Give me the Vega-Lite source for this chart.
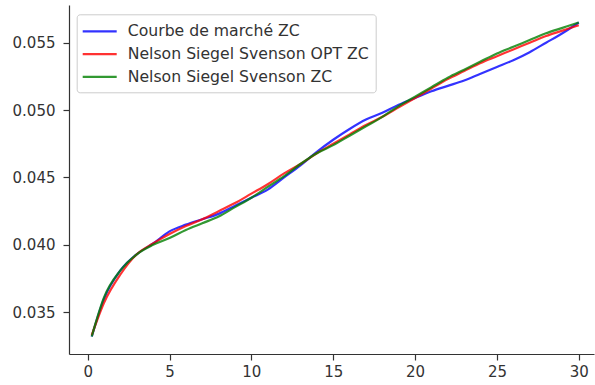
{
  "$schema": "https://vega.github.io/schema/vega-lite/v6.json",
  "width": 525,
  "height": 349,
  "autosize": {"type": "none"},
  "padding": {"left": 69, "top": 5, "right": 1, "bottom": 31},
  "background": "white",
  "config": {
    "view": {"stroke": null},
    "font": "DejaVu Sans",
    "axis": {
      "grid": false,
      "title": null,
      "domainColor": "#333333",
      "domainWidth": 1.2,
      "tickColor": "#333333",
      "tickSize": 6,
      "tickWidth": 1.2,
      "labelFont": "DejaVu Sans",
      "labelFontSize": 15,
      "labelColor": "#333333"
    }
  },
  "datasets": {
    "curves": [
      {"t": 0.25, "s": "Courbe de marché ZC", "v": 0.0332},
      {"t": 1, "s": "Courbe de marché ZC", "v": 0.0360},
      {"t": 2, "s": "Courbe de marché ZC", "v": 0.0381},
      {"t": 3, "s": "Courbe de marché ZC", "v": 0.0393},
      {"t": 4, "s": "Courbe de marché ZC", "v": 0.0401},
      {"t": 5, "s": "Courbe de marché ZC", "v": 0.0410},
      {"t": 6, "s": "Courbe de marché ZC", "v": 0.0415},
      {"t": 7, "s": "Courbe de marché ZC", "v": 0.0419},
      {"t": 8, "s": "Courbe de marché ZC", "v": 0.0423},
      {"t": 9, "s": "Courbe de marché ZC", "v": 0.0429},
      {"t": 10, "s": "Courbe de marché ZC", "v": 0.0435},
      {"t": 11, "s": "Courbe de marché ZC", "v": 0.0441},
      {"t": 12, "s": "Courbe de marché ZC", "v": 0.0450},
      {"t": 13, "s": "Courbe de marché ZC", "v": 0.0459},
      {"t": 14, "s": "Courbe de marché ZC", "v": 0.0469},
      {"t": 15, "s": "Courbe de marché ZC", "v": 0.0478},
      {"t": 16, "s": "Courbe de marché ZC", "v": 0.0486},
      {"t": 17, "s": "Courbe de marché ZC", "v": 0.0493},
      {"t": 18, "s": "Courbe de marché ZC", "v": 0.0498},
      {"t": 19, "s": "Courbe de marché ZC", "v": 0.0504},
      {"t": 20, "s": "Courbe de marché ZC", "v": 0.0509},
      {"t": 21, "s": "Courbe de marché ZC", "v": 0.0514},
      {"t": 22, "s": "Courbe de marché ZC", "v": 0.0518},
      {"t": 23, "s": "Courbe de marché ZC", "v": 0.0522},
      {"t": 24, "s": "Courbe de marché ZC", "v": 0.0527},
      {"t": 25, "s": "Courbe de marché ZC", "v": 0.0532},
      {"t": 26, "s": "Courbe de marché ZC", "v": 0.0537},
      {"t": 27, "s": "Courbe de marché ZC", "v": 0.0543},
      {"t": 28, "s": "Courbe de marché ZC", "v": 0.0550},
      {"t": 29, "s": "Courbe de marché ZC", "v": 0.0557},
      {"t": 30, "s": "Courbe de marché ZC", "v": 0.0565},
      {"t": 0.25, "s": "Nelson Siegel Svenson OPT ZC", "v": 0.0333},
      {"t": 1, "s": "Nelson Siegel Svenson OPT ZC", "v": 0.0357},
      {"t": 2, "s": "Nelson Siegel Svenson OPT ZC", "v": 0.0378},
      {"t": 3, "s": "Nelson Siegel Svenson OPT ZC", "v": 0.0393},
      {"t": 4, "s": "Nelson Siegel Svenson OPT ZC", "v": 0.0401},
      {"t": 5, "s": "Nelson Siegel Svenson OPT ZC", "v": 0.0408},
      {"t": 6, "s": "Nelson Siegel Svenson OPT ZC", "v": 0.0414},
      {"t": 7, "s": "Nelson Siegel Svenson OPT ZC", "v": 0.0419},
      {"t": 8, "s": "Nelson Siegel Svenson OPT ZC", "v": 0.0425},
      {"t": 9, "s": "Nelson Siegel Svenson OPT ZC", "v": 0.0431},
      {"t": 10, "s": "Nelson Siegel Svenson OPT ZC", "v": 0.0438},
      {"t": 11, "s": "Nelson Siegel Svenson OPT ZC", "v": 0.0445},
      {"t": 12, "s": "Nelson Siegel Svenson OPT ZC", "v": 0.0453},
      {"t": 13, "s": "Nelson Siegel Svenson OPT ZC", "v": 0.0460},
      {"t": 14, "s": "Nelson Siegel Svenson OPT ZC", "v": 0.0468},
      {"t": 15, "s": "Nelson Siegel Svenson OPT ZC", "v": 0.0475},
      {"t": 16, "s": "Nelson Siegel Svenson OPT ZC", "v": 0.0482},
      {"t": 17, "s": "Nelson Siegel Svenson OPT ZC", "v": 0.0489},
      {"t": 18, "s": "Nelson Siegel Svenson OPT ZC", "v": 0.0495},
      {"t": 19, "s": "Nelson Siegel Svenson OPT ZC", "v": 0.0502},
      {"t": 20, "s": "Nelson Siegel Svenson OPT ZC", "v": 0.0509},
      {"t": 21, "s": "Nelson Siegel Svenson OPT ZC", "v": 0.0516},
      {"t": 22, "s": "Nelson Siegel Svenson OPT ZC", "v": 0.0523},
      {"t": 23, "s": "Nelson Siegel Svenson OPT ZC", "v": 0.0529},
      {"t": 24, "s": "Nelson Siegel Svenson OPT ZC", "v": 0.0535},
      {"t": 25, "s": "Nelson Siegel Svenson OPT ZC", "v": 0.0540},
      {"t": 26, "s": "Nelson Siegel Svenson OPT ZC", "v": 0.0545},
      {"t": 27, "s": "Nelson Siegel Svenson OPT ZC", "v": 0.0550},
      {"t": 28, "s": "Nelson Siegel Svenson OPT ZC", "v": 0.0555},
      {"t": 29, "s": "Nelson Siegel Svenson OPT ZC", "v": 0.0559},
      {"t": 30, "s": "Nelson Siegel Svenson OPT ZC", "v": 0.0563},
      {"t": 0.25, "s": "Nelson Siegel Svenson ZC", "v": 0.0332},
      {"t": 1, "s": "Nelson Siegel Svenson ZC", "v": 0.0361},
      {"t": 2, "s": "Nelson Siegel Svenson ZC", "v": 0.0381},
      {"t": 3, "s": "Nelson Siegel Svenson ZC", "v": 0.0393},
      {"t": 4, "s": "Nelson Siegel Svenson ZC", "v": 0.0400},
      {"t": 5, "s": "Nelson Siegel Svenson ZC", "v": 0.0405},
      {"t": 6, "s": "Nelson Siegel Svenson ZC", "v": 0.0411},
      {"t": 7, "s": "Nelson Siegel Svenson ZC", "v": 0.0416},
      {"t": 8, "s": "Nelson Siegel Svenson ZC", "v": 0.0421},
      {"t": 9, "s": "Nelson Siegel Svenson ZC", "v": 0.0428},
      {"t": 10, "s": "Nelson Siegel Svenson ZC", "v": 0.0435},
      {"t": 11, "s": "Nelson Siegel Svenson ZC", "v": 0.0443},
      {"t": 12, "s": "Nelson Siegel Svenson ZC", "v": 0.0451},
      {"t": 13, "s": "Nelson Siegel Svenson ZC", "v": 0.0460},
      {"t": 14, "s": "Nelson Siegel Svenson ZC", "v": 0.0468},
      {"t": 15, "s": "Nelson Siegel Svenson ZC", "v": 0.0474},
      {"t": 16, "s": "Nelson Siegel Svenson ZC", "v": 0.0481},
      {"t": 17, "s": "Nelson Siegel Svenson ZC", "v": 0.0488},
      {"t": 18, "s": "Nelson Siegel Svenson ZC", "v": 0.0495},
      {"t": 19, "s": "Nelson Siegel Svenson ZC", "v": 0.0503},
      {"t": 20, "s": "Nelson Siegel Svenson ZC", "v": 0.0510},
      {"t": 21, "s": "Nelson Siegel Svenson ZC", "v": 0.0517},
      {"t": 22, "s": "Nelson Siegel Svenson ZC", "v": 0.0524},
      {"t": 23, "s": "Nelson Siegel Svenson ZC", "v": 0.0530},
      {"t": 24, "s": "Nelson Siegel Svenson ZC", "v": 0.0536},
      {"t": 25, "s": "Nelson Siegel Svenson ZC", "v": 0.0542},
      {"t": 26, "s": "Nelson Siegel Svenson ZC", "v": 0.0547},
      {"t": 27, "s": "Nelson Siegel Svenson ZC", "v": 0.0552},
      {"t": 28, "s": "Nelson Siegel Svenson ZC", "v": 0.0557},
      {"t": 29, "s": "Nelson Siegel Svenson ZC", "v": 0.0561},
      {"t": 30, "s": "Nelson Siegel Svenson ZC", "v": 0.0565}
    ]
  },
  "layer": [
    {
      "data": {"name": "curves"},
      "mark": {"type": "line", "strokeWidth": 2.2, "strokeOpacity": 0.8, "interpolate": "monotone"},
      "encoding": {
        "x": {
          "field": "t",
          "type": "quantitative",
          "scale": {"domain": [-1.14, 30.93], "nice": false, "zero": false},
          "axis": {"values": [0, 5, 10, 15, 20, 25, 30], "labelPadding": 4}
        },
        "y": {
          "field": "v",
          "type": "quantitative",
          "scale": {"domain": [0.0319, 0.0578], "nice": false, "zero": false},
          "axis": {"values": [0.035, 0.04, 0.045, 0.05, 0.055], "format": ".3f", "labelPadding": 8}
        },
        "color": {
          "field": "s",
          "type": "nominal",
          "scale": {
            "domain": ["Courbe de marché ZC", "Nelson Siegel Svenson OPT ZC", "Nelson Siegel Svenson ZC"],
            "range": ["#0000ff", "#ff0000", "#008000"]
          },
          "legend": {
            "title": null,
            "orient": "none",
            "legendX": 7.7,
            "legendY": 9.3,
            "fillColor": "white",
            "strokeColor": "#cccccc",
            "cornerRadius": 3,
            "padding": 7,
            "symbolType": "M-2,0H2",
            "symbolSize": 289,
            "symbolStrokeWidth": 2.2,
            "symbolOpacity": 0.8,
            "symbolOffset": 6,
            "rowPadding": 4.8,
            "labelOffset": 18,
            "labelFont": "DejaVu Sans",
            "labelFontSize": 15.7,
            "labelColor": "#333333",
            "labelLimit": 400
          }
        }
      }
    },
    {
      "mark": {"type": "rule", "color": "#333333", "strokeWidth": 1.2},
      "encoding": {"y": {"datum": 0.0578}}
    }
  ]
}
